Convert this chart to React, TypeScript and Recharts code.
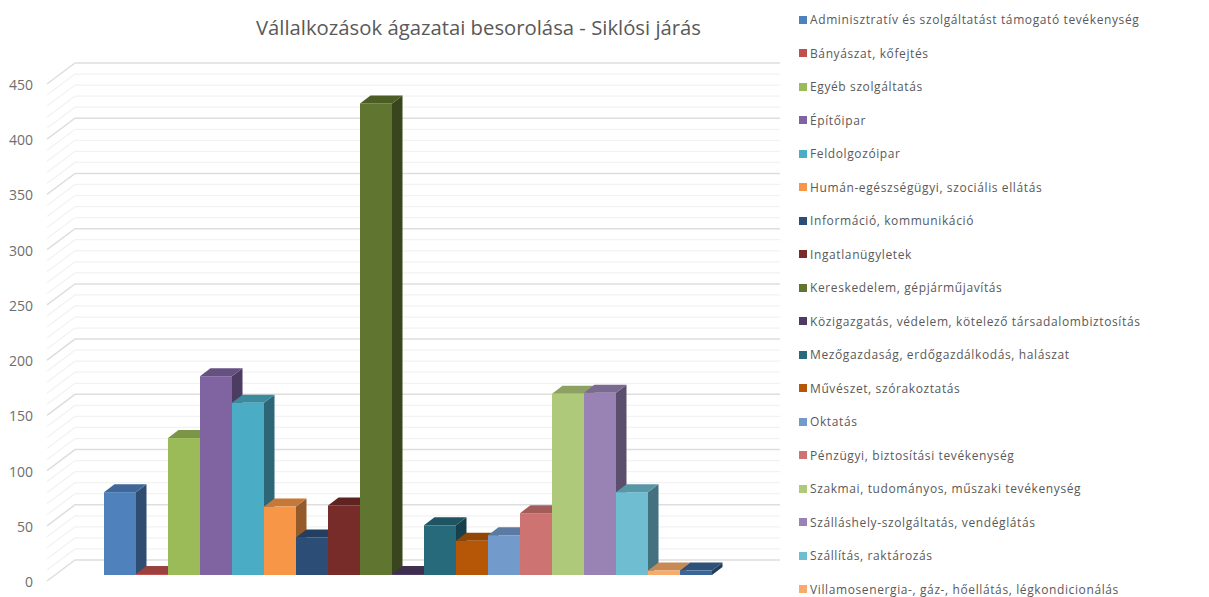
import { Bar, BarChart, CartesianGrid, Legend, XAxis, YAxis } from "recharts";

const TITLE = "Vállalkozások ágazatai besorolása - Siklósi járás";
const FONT = "'Open Sans', sans-serif";

const sectors = [
  "Adminisztratív és szolgáltatást támogató tevékenység",
  "Bányászat, kőfejtés",
  "Egyéb szolgáltatás",
  "Építőipar",
  "Feldolgozóipar",
  "Humán-egészségügyi, szociális ellátás",
  "Információ, kommunikáció",
  "Ingatlanügyletek",
  "Kereskedelem, gépjárműjavítás",
  "Közigazgatás, védelem, kötelező társadalombiztosítás",
  "Mezőgazdaság, erdőgazdálkodás, halászat",
  "Művészet, szórakoztatás",
  "Oktatás",
  "Pénzügyi, biztosítási tevékenység",
  "Szakmai, tudományos, műszaki tevékenység",
  "Szálláshely-szolgáltatás, vendéglátás",
  "Szállítás, raktározás",
  "Villamosenergia-, gáz-, hőellátás, légkondicionálás",
  "Vízellátás, hulladékgazdálkodás",
];
const counts = [75, 1, 124, 180, 156, 62, 34, 63, 427, 1, 45, 31, 36, 56, 164, 165, 75, 4, 4];
const colors = [
  "#4f81bd", "#c0504d", "#9bbb59", "#8064a2", "#4bacc6", "#f79646",
  "#2c4d75", "#772c2a", "#5f7530", "#4d3b62", "#276a7c", "#b65708",
  "#729aca", "#cd7371", "#afc97a", "#9983b5", "#6fbdd1", "#f9ab6b", "#3a6599",
];
const axisTicks = [0, 50, 100, 150, 200, 250, 300, 350, 400, 450];
const gridValues = [
  0, 10, 20, 30, 40, 50, 60, 70, 80, 90, 100, 110, 120, 130, 140, 150, 160, 170, 180, 190, 200,
  210, 220, 230, 240, 250, 260, 270, 280, 290, 300, 310, 320, 330, 340, 350, 360, 370, 380, 390,
  400, 410, 420, 430, 440, 450,
];

const row: Record<string, string | number> = { category: "Siklósi járás" };
counts.forEach((v, i) => {
  row[`s${i}`] = v;
});
const data = [row];

// the floor runs back from the axis plane
const WALL_DX = 28;
const WALL_DY = 21;
// bars stand part way into the floor
const BAR_SHIFT_X = 8.5;
const BAR_SHIFT_Y = 6;
const BAR_DX = 10.5;
const BAR_DY = 8;

function shade(hex: string, k: number): string {
  const n = parseInt(hex.slice(1), 16);
  const c = [(n >> 16) & 255, (n >> 8) & 255, n & 255].map((v) => Math.round(v * k));
  return `rgb(${c[0]},${c[1]},${c[2]})`;
}

function Bar3D(props: any) {
  const { x, y, width, height, fill } = props;
  const l = x + BAR_SHIFT_X;
  const r = l + width;
  const t = y - BAR_SHIFT_Y;
  const b = t + height;
  return (
    <g>
      <polygon
        points={`${r},${t} ${r + BAR_DX},${t - BAR_DY} ${r + BAR_DX},${b - BAR_DY} ${r},${b}`}
        fill={shade(fill, 0.6)}
      />
      <polygon
        points={`${l},${t} ${l + BAR_DX},${t - BAR_DY} ${r + BAR_DX},${t - BAR_DY} ${r},${t}`}
        fill={shade(fill, 0.8)}
      />
      <rect x={l} y={t} width={width} height={height} fill={fill} />
    </g>
  );
}

function GridLine3D(props: any) {
  const { x1, x2, y1, index } = props;
  const major = gridValues[index] % 50 === 0;
  const stroke = major ? "#dedede" : "#f2f2f2";
  return (
    <polyline
      points={`${x1},${y1} ${x1 + WALL_DX},${y1 - WALL_DY} ${x2 + WALL_DX},${y1 - WALL_DY}`}
      fill="none"
      stroke={stroke}
      strokeWidth={major ? 1.5 : 1.25}
    />
  );
}

function SectorLegend({ payload }: any) {
  const items = (payload ?? []).filter((p: any) => p.type !== "none");
  return (
    <div style={{ fontFamily: FONT, fontSize: 12, letterSpacing: 0.61, color: "#595959" }}>
      {items.map((p: any) => (
        <div key={p.value} style={{ display: "flex", alignItems: "center", height: 33.5, whiteSpace: "nowrap" }}>
          <span style={{ width: 8, height: 8, background: p.color, marginRight: 3, flex: "none" }} />
          {p.value}
        </div>
      ))}
    </div>
  );
}

export default function App() {
  return (
    <div style={{ position: "absolute", left: 0, top: 0, width: 1209, height: 597, background: "#fff", overflow: "hidden" }}>
      <div
        style={{
          position: "absolute",
          left: 0,
          width: 957,
          top: 13,
          textAlign: "center",
          fontFamily: FONT,
          fontSize: 20.3,
          color: "#595959",
        }}
      >
        {TITLE}
      </div>
      <BarChart
        width={1209}
        height={597}
        data={data}
        margin={{ top: 84, right: 457, bottom: 16, left: 0 }}
        barCategoryGap={48.5}
        barGap={0}
      >
        <CartesianGrid vertical={false} horizontalValues={gridValues} horizontal={GridLine3D} />
        <XAxis dataKey="category" hide />
        <YAxis
          width={47}
          domain={[0, 450]}
          ticks={axisTicks}
          interval={0}
          axisLine={false}
          tickLine={false}
          tickSize={0}
          tickMargin={14}
          tick={{ fill: "#6e6e6e", fontSize: 14, fontFamily: FONT, dy: 1 }}
        />
        <Legend
          layout="vertical"
          align="center"
          verticalAlign="middle"
          itemSorter={null}
          content={SectorLegend}
          wrapperStyle={{ left: 799, top: 3, width: 400 }}
        />
        {sectors.map((name, i) => (
          <Bar
            key={name}
            dataKey={`s${i}`}
            name={name}
            fill={colors[i]}
            shape={Bar3D}
            legendType={i === sectors.length - 1 ? "none" : "square"}
            isAnimationActive={false}
          />
        ))}
      </BarChart>
    </div>
  );
}
